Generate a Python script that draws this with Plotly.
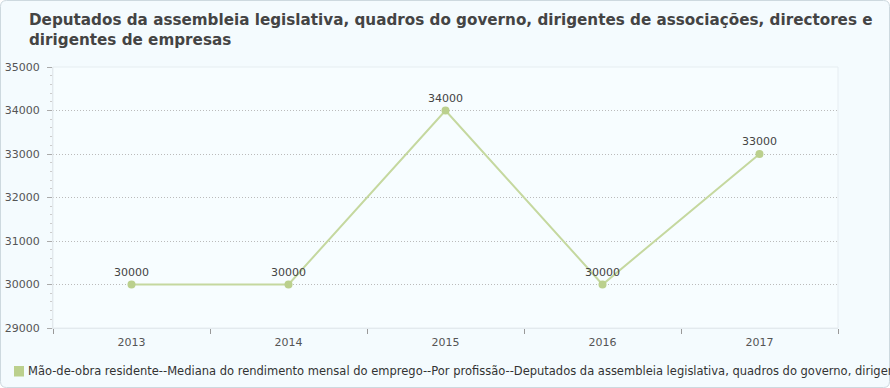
import plotly.graph_objects as go

years = ["2013", "2014", "2015", "2016", "2017"]
values = [30000, 30000, 34000, 30000, 33000]
labels = ["30000", "30000", "34000", "30000", "33000"]
title_text = ("Deputados da assembleia legislativa, quadros do governo, dirigentes de associações, directores e<br>"
              "dirigentes de empresas")
legend_text = ("Mão-de-obra residente--Mediana do rendimento mensal do emprego--Por profissão--"
               "Deputados da assembleia legislativa, quadros do governo, dirigentes de associações, directores e dirigentes de empresas")

W, H = 890, 388
L, R, T, B = 53, 52, 67, 60
PW, PH = W - L - R, H - T - B

def px(x):
    return (x - L) / PW

def py(y):
    return (H - B - y) / PH

font = "DejaVu Sans, Verdana, sans-serif"
line_col = "#c5d89f"
mark_col = "#bbd08d"

fig = go.Figure()
fig.add_trace(go.Scatter(
    x=years, y=values, text=labels, mode="lines+markers+text",
    textposition="top center", textfont=dict(family=font, size=11, color="#444"),
    line=dict(color=line_col, width=2),
    marker=dict(color=mark_col, size=8),
    showlegend=False, cliponaxis=False, hoverinfo="x+y"))

# rounded outer background
r = 6
x0, x1, y0, y1 = 0.5, W - 0.5, 0.5, H - 0.5
path = (f"M {px(x0 + r)},{py(y0)} L {px(x1 - r)},{py(y0)} Q {px(x1)},{py(y0)} {px(x1)},{py(y0 + r)} "
        f"L {px(x1)},{py(y1 - r)} Q {px(x1)},{py(y1)} {px(x1 - r)},{py(y1)} "
        f"L {px(x0 + r)},{py(y1)} Q {px(x0)},{py(y1)} {px(x0)},{py(y1 - r)} "
        f"L {px(x0)},{py(y0 + r)} Q {px(x0)},{py(y0)} {px(x0 + r)},{py(y0)} Z")
shapes = [
    dict(type="path", xref="paper", yref="paper", path=path, layer="below",
         fillcolor="#f4fbfe", line=dict(color="#cdd9df", width=1)),
    dict(type="rect", xref="paper", yref="paper", x0=0, x1=1, y0=0, y1=1, layer="below",
         fillcolor="#f7fdff", line=dict(width=0)),
    dict(type="rect", xref="paper", yref="paper", x0=0, x1=1, y0=0, y1=1, layer="above",
         fillcolor="rgba(0,0,0,0)", line=dict(color="#e6edf1", width=1)),
    dict(type="rect", xref="paper", yref="paper", x0=px(14), x1=px(24), y0=py(376.5), y1=py(366),
         fillcolor=mark_col, line=dict(width=0)),
]

annotations = [
    dict(text=title_text, xref="paper", yref="paper", x=px(27), y=py(9), xanchor="left", yanchor="top",
         align="left", showarrow=False,
         font=dict(family=font, size=15.2, color="#444", weight="bold")),
    dict(text=legend_text, xref="paper", yref="paper", x=px(26), y=py(371), xanchor="left", yanchor="middle",
         align="left", showarrow=False, font=dict(family=font, size=11.5, color="#333")),
]

fig.update_layout(
    width=W, height=H, margin=dict(l=L, r=R, t=T, b=B, autoexpand=False),
    paper_bgcolor="white", plot_bgcolor="rgba(0,0,0,0)",
    shapes=shapes, annotations=annotations, showlegend=False,
    font=dict(family=font, size=11, color="#555"),
    xaxis=dict(type="category", range=[-0.5, 4.5], autorange=False, automargin=False,
               tickson="boundaries", ticks="outside", ticklen=5, tickcolor="#999",
               showline=True, linecolor="#e0e6ea", showgrid=False, zeroline=False,
               ticklabelstandoff=4,
               tickfont=dict(family=font, size=11, color="#555"), fixedrange=True),
    yaxis=dict(range=[29000, 35000], autorange=False, automargin=False, dtick=1000,
               ticks="outside", ticklen=5, tickcolor="#aaa",
               showline=True, linecolor="#e0e6ea", showgrid=True, gridcolor="#bbbbbb", griddash="1px,2px",
               gridwidth=1, zeroline=False, tickformat="d", ticklabelstandoff=5,
               tickfont=dict(family=font, size=11, color="#555"),
               minor=dict(dtick=200, ticks="outside", ticklen=2, tickcolor="#ccc", showgrid=False),
               fixedrange=True),
)

fig.write_html("out.html", config={"displayModeBar": False},
               post_script="document.body.style.margin='0';")
